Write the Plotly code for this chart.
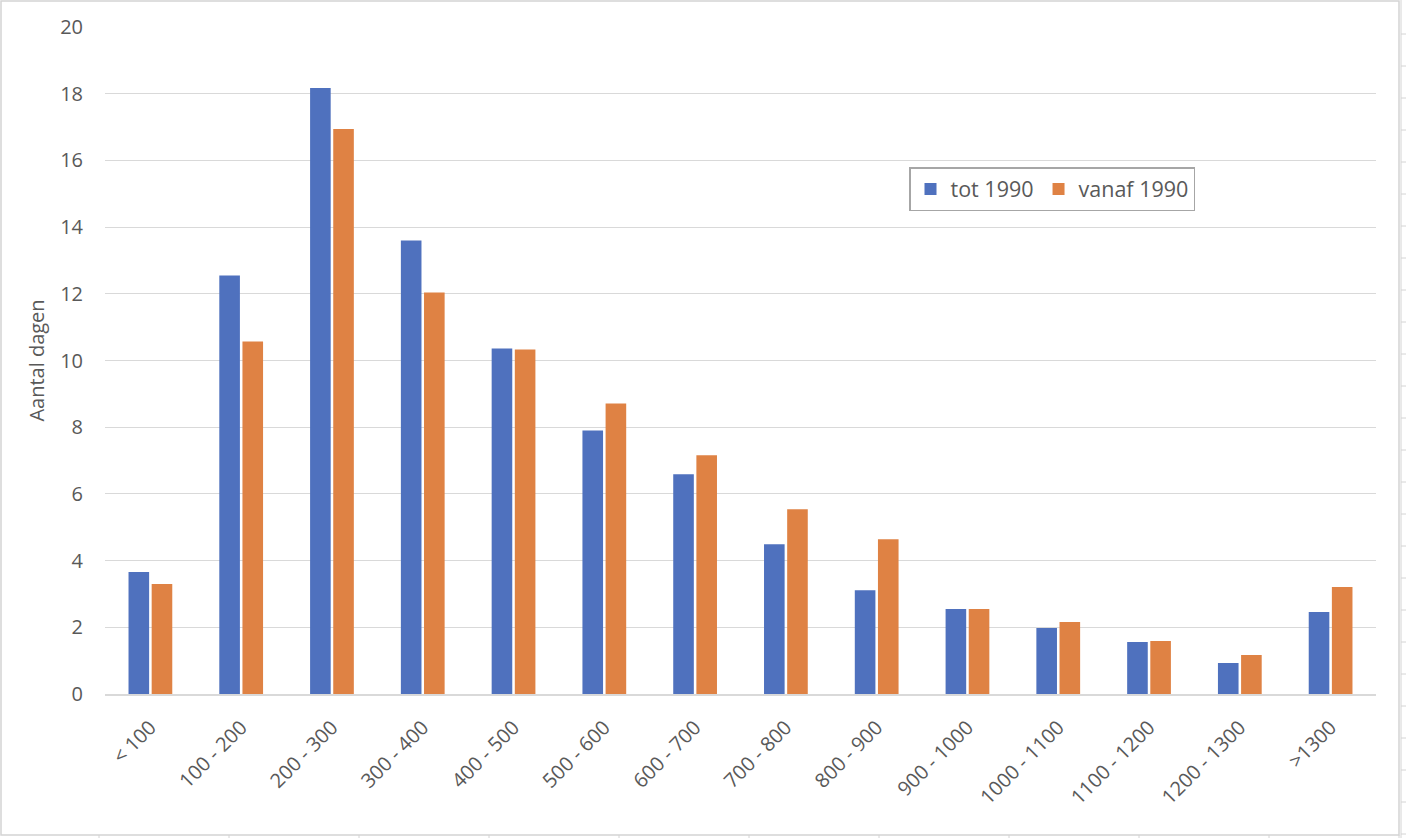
import plotly.graph_objects as go

categories = ['< 100', '100 - 200', '200 - 300', '300 - 400', '400 - 500', '500 - 600',
              '600 - 700', '700 - 800', '800 - 900', '900 - 1000', '1000 - 1100',
              '1100 - 1200', '1200 - 1300', '>1300']
tot_1990 = [3.66, 12.55, 18.17, 13.6, 10.36, 7.9, 6.59, 4.49, 3.11, 2.55, 1.98, 1.56, 0.93, 2.46]
vanaf_1990 = [3.30, 10.57, 16.94, 12.04, 10.33, 8.71, 7.16, 5.54, 4.64, 2.55, 2.16, 1.59, 1.17, 3.21]

W, H = 1406, 838
L, R, T, B = 105, 30, 27, 144
grey = '#595959'
font = 'Open Sans'

fig = go.Figure()
fig.add_trace(go.Bar(x=categories, y=tot_1990, name='tot 1990',
                     marker=dict(color='#4F71BE', line=dict(width=0))))
fig.add_trace(go.Bar(x=categories, y=vanaf_1990, name='vanaf 1990',
                     marker=dict(color='#DF8244', line=dict(width=0))))

# pixel -> paper helpers for the frame around the whole chart
pw, ph = W - L - R, H - T - B
def px_x(p):
    return (p - L) / pw
def px_y(p):
    return (H - B - p) / ph

shapes = [dict(type='rect', xref='paper', yref='paper',
               x0=px_x(1), x1=px_x(1399), y0=px_y(835), y1=px_y(1),
               line=dict(color='#d4d4d4', width=1.5), layer='below')]
# spreadsheet cell lines peeking out at the right and bottom
shapes.append(dict(type='line', xref='paper', yref='paper', x0=px_x(1401), x1=px_x(1401),
                   y0=px_y(838), y1=px_y(0), line=dict(color='#d4d4d4', width=1)))
for yy in range(34, 838, 32):
    shapes.append(dict(type='line', xref='paper', yref='paper', x0=px_x(1401), x1=px_x(1406),
                       y0=px_y(yy), y1=px_y(yy), line=dict(color='#d4d4d4', width=1)))
for xx in range(99, 1400, 130):
    shapes.append(dict(type='line', xref='paper', yref='paper', x0=px_x(xx), x1=px_x(xx),
                       y0=px_y(835), y1=px_y(838), line=dict(color='#d4d4d4', width=1)))

fig.update_layout(
    width=W, height=H,
    margin=dict(l=L, r=R, t=T, b=B),
    paper_bgcolor='white', plot_bgcolor='white',
    barmode='group', bargap=0.49, bargroupgap=0.11,
    font=dict(family=font, size=20, color=grey),
    showlegend=True,
    legend=dict(orientation='h', x=px_x(909), y=px_y(167), xanchor='left', yanchor='top',
                bgcolor='white', bordercolor='#a6a6a6', borderwidth=1.5,
                font=dict(size=21.5, color=grey)),
    shapes=shapes,
)
fig.update_xaxes(tickangle=-45, showline=True, linecolor='#d9d9d9', linewidth=1.5,
                 ticks='', showgrid=False, ticklabelstandoff=12,
                 tickfont=dict(size=20, color=grey))
fig.update_yaxes(range=[0, 20], dtick=2, showgrid=True, gridcolor='#d9d9d9', gridwidth=1.3,
                 zeroline=False, showline=False, ticks='', ticklabelstandoff=21,
                 tickfont=dict(size=20, color=grey),
                 title=dict(text='Aantal dagen', font=dict(size=20, color=grey), standoff=10))

fig.write_html('out.html', config={'displayModeBar': False},
               post_script="document.body.style.margin='0';")
